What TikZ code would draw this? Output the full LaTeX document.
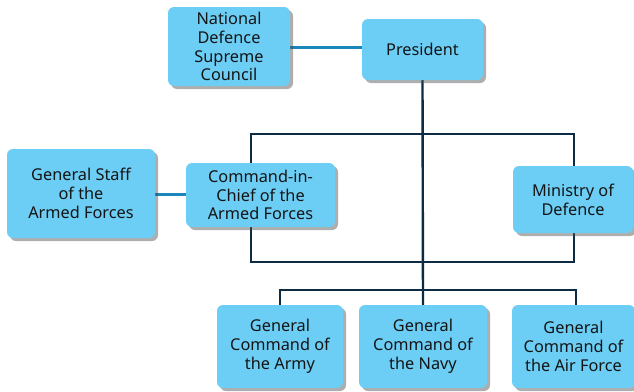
\documentclass[tikz,border=0pt]{standalone}
\usepackage{fontspec}
\setmainfont{Noto Sans}
\usetikzlibrary{shadows,backgrounds}
\definecolor{boxblue}{HTML}{6CCEF5}
\definecolor{linkblue}{HTML}{1A86BA}
\definecolor{navyline}{HTML}{0C2C43}
\definecolor{inktext}{HTML}{141414}
\tikzset{
 orgbox/.style={draw=none,fill=boxblue,rounded corners=6pt,align=center,
   text=inktext,font=\fontsize{16.3}{18.8}\selectfont,inner sep=0pt,
   drop shadow={shadow xshift=3pt,shadow yshift=-3pt,opacity=0.45,fill=black!70}},
 bus/.style={navyline,line width=2.4pt},
 link/.style={linkblue,line width=3pt}
}
\begin{document}
\begin{tikzpicture}[x=1pt,y=-1pt]
 \useasboundingbox (0,0) rectangle (634,391);
 \node[orgbox,minimum width=122pt,minimum height=79pt] (council) at (229,46.5) {National\\Defence\\Supreme\\Council}; %council
 \node[orgbox,minimum width=121pt,minimum height=61pt] (president) at (422.5,49.5) {President}; %president
 \node[orgbox,minimum width=148pt,minimum height=89pt] (staff) at (81,193.5) {General Staff\\of the\\Armed Forces}; %staff
 \node[orgbox,minimum width=149pt,minimum height=64pt] (chief) at (260.5,195) {Command-in-\\Chief of the\\Armed Forces}; %chief
 \node[orgbox,minimum width=120pt,minimum height=67pt] (ministry) at (573,199.5) {Ministry of\\Defence}; %ministry
 \node[orgbox,minimum width=126pt,minimum height=83pt] (army) at (280,346.5) {General\\Command of\\the Army}; %army
 \node[orgbox,minimum width=128pt,minimum height=83pt] (navy) at (423,346.5) {General\\Command of\\the Navy}; %navy
 \node[orgbox,minimum width=123pt,minimum height=83pt] (airforce) at (573.5,346.5) {General\\Command of\\the Air Force}; %air force

 \coordinate (frameA) at (251,134); %frame corners
 \coordinate (frameB) at (574,262);
 \coordinate (fork) at (422.5,290); %fork of bottom row

 \begin{scope}[on background layer]
  \fill[white] (0,0) rectangle (634,391);
  \draw[bus] (frameA) rectangle (frameB);
  \draw[bus] (president.south) -- (navy.north);
  \draw[bus] (army.north) |- (fork) -| (576,305);
  \draw[link] (council.east |- 0,47) -- (president.west |- 0,47);
  \draw[link] (staff.east |- 0,194) -- (chief.west |- 0,194);
 \end{scope}
\end{tikzpicture}
\end{document}
